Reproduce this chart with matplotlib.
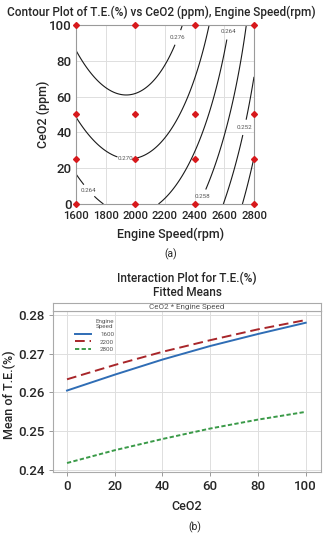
import matplotlib
matplotlib.use("Agg")
import matplotlib.pyplot as plt
import numpy as np
from matplotlib.ticker import FormatStrFormatter

plt.rcParams['font.family'] = ['Roboto', 'DejaVu Sans']

# fitted means of T.E.(%)
ceo2 = [0, 20, 40, 60, 80, 100]
speed_levels = [1600, 2200, 2800]
te_1600 = [0.2605, 0.2646, 0.2685, 0.2720, 0.2751, 0.2780]
te_2200 = [0.2634, 0.2671, 0.2705, 0.2735, 0.2763, 0.2787]
te_2800 = [0.2418, 0.2451, 0.2480, 0.2507, 0.2530, 0.2550]

# design points shown as red markers in panel (a)
design_speed = [1600, 2000, 2400, 2800]
design_ceo2 = [0, 25, 50, 100]

contour_levels = [0.246, 0.252, 0.258, 0.264, 0.270, 0.276]

TXT = '#262626'
GRID = '#dedede'
SPINE = '#9a9a9a'
FW = 'medium'


def quad_terms(speed, c):
    s = (np.asarray(speed, dtype=float) - 2200) / 600
    c = np.asarray(c, dtype=float) / 100
    return np.stack([np.ones_like(s), s, c, s * s, c * c, s * c], axis=-1)


# response surface = quadratic fit through the fitted means
S, C = np.meshgrid(speed_levels, ceo2, indexing='ij')
Z = np.array([te_1600, te_2200, te_2800])
coef, *_ = np.linalg.lstsq(quad_terms(S.ravel(), C.ravel()), Z.ravel(), rcond=None)

sg = np.linspace(1600, 2800, 241)
cg = np.linspace(0, 100, 201)
SG, CG = np.meshgrid(sg, cg)
ZG = quad_terms(SG, CG) @ coef

fig = plt.figure(figsize=(3.34, 5.36), dpi=100)
W, H = 334, 536

# ---- (a) contour plot
ax1 = fig.add_axes([76 / W, 1 - 204 / H, 178 / W, 179 / H])
cs = ax1.contour(SG, CG, ZG, levels=contour_levels, colors='#1a1a1a', linewidths=0.8)
labels = ax1.clabel(cs, fmt='%.3f', fontsize=4.5, inline=True, inline_spacing=0, colors='#555555',
                    manual=[(2288, 93), (2638, 96), (1930, 25), (1681, 7), (2456, 4), (2726, 43)])
for t in labels:
    t.set_rotation(0)
dS, dC = np.meshgrid(design_speed, design_ceo2)
ax1.plot(dS.ravel(), dC.ravel(), 'D', color='#d7191c', ms=3, clip_on=False, zorder=5)
ax1.set_xlim(1600, 2800)
ax1.set_ylim(0, 100)
ax1.set_xticks(range(1600, 2801, 200))
ax1.set_yticks(range(0, 101, 20))
ax1.grid(True, color=GRID, lw=0.7)
ax1.set_axisbelow(True)
ax1.tick_params(length=0, colors=TXT)
ax1.tick_params(axis='x', labelsize=8.2, pad=5)
ax1.tick_params(axis='y', labelsize=9.5, pad=3)
for t in ax1.get_xticklabels() + ax1.get_yticklabels():
    t.set_fontweight(FW)
for sp in ax1.spines.values():
    sp.set_color(SPINE)
    sp.set_linewidth(0.8)
ax1.set_xlabel('Engine Speed(rpm)', fontsize=9, color=TXT, va='center', fontweight=FW)
ax1.xaxis.set_label_coords(0.534, -0.168)
ax1.set_ylabel('CeO2 (ppm)', fontsize=9, color=TXT, va='center', fontweight=FW)
ax1.yaxis.set_label_coords(-0.185, 0.5)

fig.text(161 / W, 1 - 12 / H, 'Contour Plot of T.E.(%) vs CeO2 (ppm), Engine Speed(rpm)',
         ha='center', va='center', fontsize=8.5, color=TXT, fontweight=FW)
fig.text(171 / W, 1 - 254 / H, '(a)', ha='center', va='center', fontsize=7.5, color=TXT)

# ---- (b) interaction plot
ax2 = fig.add_axes([53 / W, 1 - 472 / H, 268 / W, 161 / H])
ax2.plot(ceo2, te_1600, '-', color='#2f6db5', lw=1.4, label='1600')
ax2.plot(ceo2, te_2200, '--', color='#a8262a', lw=1.4, dashes=(5, 2.5), label='2200')
ax2.plot(ceo2, te_2800, '--', color='#3a9a48', lw=1.4, dashes=(2.2, 1.2), label='2800')
ax2.set_xlim(-5.87, 106.4)
ax2.set_ylim(0.23948, 0.28103)
ax2.set_xticks(range(0, 101, 20))
ax2.set_yticks([0.24, 0.25, 0.26, 0.27, 0.28])
ax2.yaxis.set_major_formatter(FormatStrFormatter('%.2f'))
ax2.grid(True, color=GRID, lw=0.7)
ax2.set_axisbelow(True)
ax2.tick_params(length=3, width=0.7, color=SPINE, labelsize=9.5, labelcolor=TXT, pad=3)
for t in ax2.get_xticklabels() + ax2.get_yticklabels():
    t.set_fontweight(FW)
for sp in ax2.spines.values():
    sp.set_color('#aaaaaa')
    sp.set_linewidth(0.8)
ax2.set_xlabel('CeO2', fontsize=9, color=TXT, va='center', fontweight=FW)
ax2.xaxis.set_label_coords(0.5, -0.217)
ax2.set_ylabel('Mean of T.E.(%)', fontsize=9, color=TXT, va='center', fontweight=FW)
ax2.yaxis.set_label_coords(-0.164, 0.478)
leg = ax2.legend(title='Engine\nSpeed', loc='upper left', bbox_to_anchor=(0.071, 0.972),
                 frameon=False, fontsize=4.5, title_fontsize=4.5, handlelength=2.6,
                 handletextpad=1.4, labelspacing=0.35, borderpad=0, alignment='right')
for t in leg.get_texts():
    t.set_color('#555555')
leg.get_title().set_color('#555555')

strip = fig.add_axes([53 / W, 1 - 311 / H, 268 / W, 8 / H])
strip.set_xticks([])
strip.set_yticks([])
for sp in strip.spines.values():
    sp.set_color('#aaaaaa')
    sp.set_linewidth(0.8)
strip.text(0.5, 0.5, 'CeO2 * Engine Speed', ha='center', va='center', fontsize=5.8,
           color='#555555', transform=strip.transAxes)

fig.text(187 / W, 1 - 278 / H, 'Interaction Plot for T.E.(%)', ha='center', va='center',
         fontsize=8.5, color=TXT, fontweight=FW)
fig.text(187 / W, 1 - 293 / H, 'Fitted Means', ha='center', va='center', fontsize=8.5,
         color=TXT, fontweight=FW)
fig.text(195 / W, 1 - 527 / H, '(b)', ha='center', va='center', fontsize=7.5, color=TXT)

fig.savefig('out.png', dpi=100)
